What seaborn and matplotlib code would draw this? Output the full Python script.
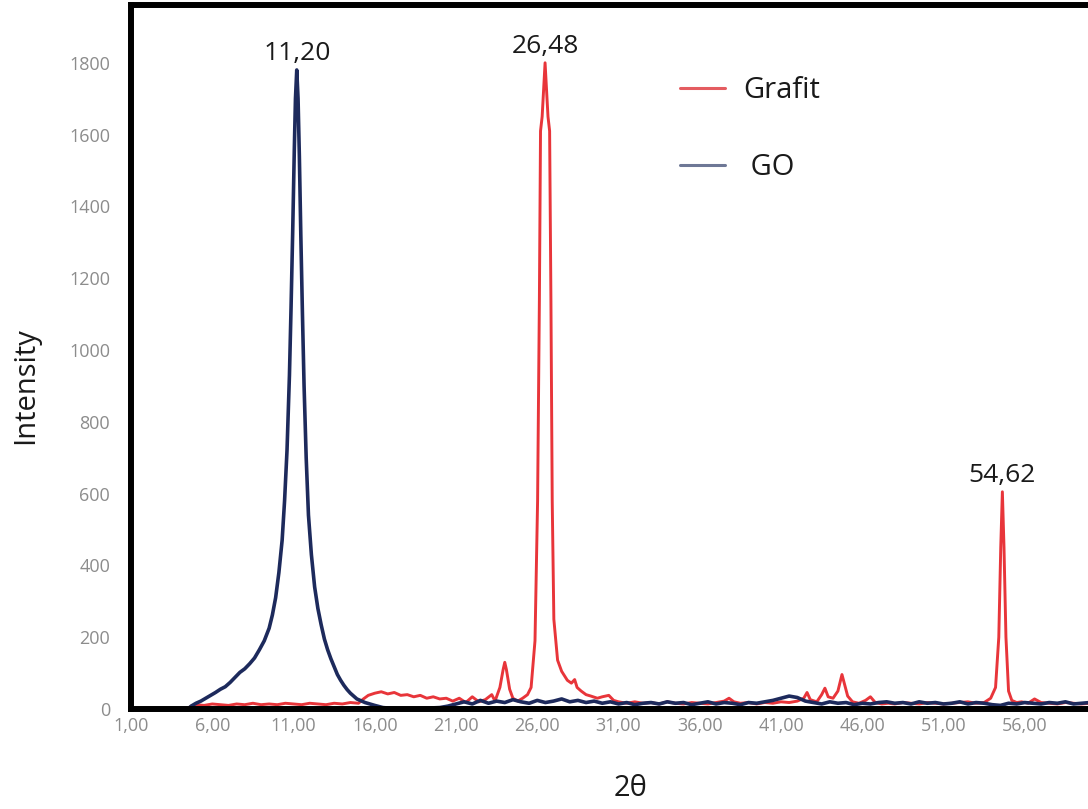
import matplotlib
matplotlib.use("Agg")
import matplotlib.pyplot as plt
from matplotlib.lines import Line2D
import pandas as pd
import seaborn as sns

# XRD scan of graphite (Grafit) and graphene oxide (GO)
go_2theta = [1.0, 4.5, 4.7, 5.0, 5.3, 5.6, 5.9, 6.2, 6.5, 6.8, 7.1, 7.4, 7.7, 8.0,
             8.3, 8.6, 8.9, 9.2, 9.5, 9.7, 9.9, 10.1, 10.3, 10.45, 10.6, 10.75,
             10.85, 10.95, 11.05, 11.12, 11.2, 11.28, 11.36, 11.45, 11.55, 11.65,
             11.78, 11.92, 12.1, 12.3, 12.5, 12.7, 12.9, 13.1, 13.3, 13.5, 13.7,
             13.9, 14.1, 14.3, 14.5, 14.7, 14.9, 15.1, 15.4, 15.7, 16.0, 16.5,
             17.0, 18.0, 19.0, 20.0, 20.5, 21.0, 21.5, 22.0, 22.5, 23.0, 23.5,
             24.0, 24.5, 25.0, 25.5, 26.0, 26.5, 27.0, 27.5, 28.0, 28.5, 29.0,
             29.5, 30.0, 30.5, 31.0, 31.5, 32.0, 32.5, 33.0, 33.5, 34.0, 34.5,
             35.0, 35.5, 36.0, 36.5, 37.0, 37.5, 38.0, 38.5, 39.0, 39.5, 40.0,
             40.5, 41.0, 41.5, 42.0, 42.5, 43.0, 43.5, 44.0, 44.5, 45.0, 45.5,
             46.0, 46.5, 47.0, 47.5, 48.0, 48.5, 49.0, 49.5, 50.0, 50.5, 51.0,
             51.5, 52.0, 52.5, 53.0, 53.5, 54.0, 54.5, 55.0, 55.5, 56.0, 56.5,
             57.0, 57.5, 58.0, 58.5, 59.0, 59.5, 60.0]
go_intensity = [0, 0, 8, 16, 22, 30, 38, 46, 55, 62, 74, 88, 102, 112,
                126, 142, 165, 190, 225, 262, 310, 380, 470, 580, 720, 930,
                1120, 1330, 1560, 1700, 1780, 1700, 1540, 1320, 1100, 900,
                700, 540, 430, 340, 280, 235, 195, 165, 140, 118, 96,
                80, 66, 54, 44, 36, 28, 24, 18, 14, 10, 4,
                2, 0, 2, 4, 8, 14, 20, 14, 24, 16, 22,
                18, 26, 20, 16, 24, 18, 22, 28, 20, 24, 18,
                22, 16, 20, 14, 18, 12, 16, 18, 14, 20, 16,
                18, 12, 16, 20, 14, 18, 16, 12, 18, 16, 20,
                24, 30, 36, 32, 22, 18, 14, 20, 16, 18, 12,
                16, 14, 18, 20, 16, 18, 14, 20, 16, 18, 14,
                16, 20, 14, 18, 16, 12, 10, 16, 14, 18, 16,
                14, 18, 16, 20, 14, 16, 18]

grafit_2theta = [1.0, 4.5, 4.7, 5.0, 5.5, 6.0, 6.5, 7.0, 7.5, 8.0, 8.5, 9.0, 9.5,
                 10.0, 10.5, 11.0, 11.5, 12.0, 12.5, 13.0, 13.5, 14.0, 14.5, 15.0,
                 15.3, 15.6, 16.0, 16.4, 16.8, 17.2, 17.6, 18.0, 18.4, 18.8, 19.2,
                 19.6, 20.0, 20.4, 20.8, 21.2, 21.6, 22.0, 22.4, 22.8, 23.2, 23.4,
                 23.7, 23.9, 24.0, 24.1, 24.3, 24.5, 24.8, 25.1, 25.4, 25.62, 25.86,
                 26.02, 26.13, 26.2, 26.3, 26.48, 26.66, 26.76, 26.84, 26.92, 27.02,
                 27.25, 27.5, 27.85, 28.1, 28.3, 28.45, 28.7, 29.0, 29.3, 29.7, 30.0,
                 30.4, 30.7, 31.0, 31.5, 32.0, 32.5, 33.0, 33.5, 34.0, 34.5, 35.0,
                 35.5, 36.0, 36.5, 37.0, 37.5, 37.8, 38.1, 38.5, 39.0, 39.5, 40.0,
                 40.5, 41.0, 41.5, 42.0, 42.4, 42.6, 42.8, 43.2, 43.5, 43.7, 43.9,
                 44.2, 44.5, 44.75, 44.9, 45.1, 45.4, 45.8, 46.2, 46.5, 46.8, 47.2,
                 47.6, 48.0, 48.5, 49.0, 49.5, 50.0, 50.5, 51.0, 51.5, 52.0, 52.5,
                 53.0, 53.5, 53.9, 54.2, 54.4, 54.52, 54.62, 54.72, 54.84, 55.0,
                 55.2, 55.5, 55.8, 56.2, 56.6, 57.0, 57.5, 58.0, 58.5, 59.0, 59.5,
                 60.0]
grafit_intensity = [0, 0, 8, 12, 10, 14, 12, 10, 14, 12, 16, 12, 14,
                    12, 16, 14, 12, 16, 14, 12, 16, 14, 18, 16,
                    28, 38, 44, 48, 42, 46, 38, 40, 34, 38, 30,
                    34, 28, 30, 22, 30, 18, 34, 20, 26, 40, 22,
                    60, 110, 130, 110, 55, 30, 22, 30, 40, 60, 190,
                    580, 1140, 1610, 1650, 1800, 1650, 1610, 1140, 580, 250,
                    136, 105, 80, 72, 82, 60, 50, 40, 36, 30, 34,
                    38, 24, 20, 16, 20, 16, 18, 14, 20, 16, 14,
                    18, 16, 14, 18, 22, 30, 20, 16, 18, 14, 18,
                    16, 20, 18, 22, 30, 46, 26, 20, 40, 58, 34,
                    30, 50, 96, 70, 36, 20, 16, 24, 34, 18, 14,
                    16, 14, 18, 16, 14, 18, 16, 14, 16, 18, 20,
                    16, 18, 30, 60, 200, 450, 605, 450, 200, 50,
                    24, 18, 20, 16, 28, 18, 16, 14, 18, 16, 14,
                    16]

series_names = ["Grafit", "GO"]
line_colors = {"Grafit": "#e8353a", "GO": "#1d2a5c"}
legend_colors = {"Grafit": "#e45c60", "GO": "#6e7896"}

peak_labels = ["11,20", "26,48", "54,62"]
peak_x = [11.20, 26.48, 54.62]
peak_y = [1780, 1800, 605]

x_ticks = [1, 6, 11, 16, 21, 26, 31, 36, 41, 46, 51, 56]
x_tick_labels = ["1,00", "6,00", "11,00", "16,00", "21,00", "26,00",
                 "31,00", "36,00", "41,00", "46,00", "51,00", "56,00"]
y_ticks = [0, 200, 400, 600, 800, 1000, 1200, 1400, 1600, 1800]

df = pd.concat([
    pd.DataFrame({"2theta": grafit_2theta, "intensity": grafit_intensity, "sample": "Grafit"}),
    pd.DataFrame({"2theta": go_2theta, "intensity": go_intensity, "sample": "GO"}),
], ignore_index=True)

sns.set_theme(style="white")
plt.rcParams["font.family"] = ["Open Sans", "DejaVu Sans"]

fig = plt.figure(figsize=(10.88, 8.09), dpi=100)
ax = fig.add_axes([131 / 1088, 100 / 809, 964 / 1088, 704 / 809])

sns.lineplot(data=df[df["sample"] == "Grafit"], x="2theta", y="intensity",
             color=line_colors["Grafit"], lw=2.1, estimator=None, sort=False,
             ax=ax, legend=False)
sns.lineplot(data=df[df["sample"] == "GO"], x="2theta", y="intensity",
             color=line_colors["GO"], lw=2.6, estimator=None, sort=False,
             ax=ax, legend=False)

ax.set_xlim(1, 60.32)
ax.set_ylim(0, 1961)
ax.set_xticks(x_ticks)
ax.set_xticklabels(x_tick_labels)
ax.set_yticks(y_ticks)
ax.set_yticklabels([str(v) for v in y_ticks])
ax.tick_params(axis="both", length=0, labelsize=13, labelcolor="#8c8c8c")
ax.tick_params(axis="y", pad=15)
ax.tick_params(axis="x", pad=6)

for side in ["left", "right", "top", "bottom"]:
    ax.spines[side].set_color("black")
    ax.spines[side].set_linewidth(4.3)

ax.set_xlabel("2θ", fontsize=21, color="#1a1a1a")
ax.set_ylabel("Intensity", fontsize=21, color="#1a1a1a")
ax.xaxis.set_label_coords(0.518, -0.092)
ax.yaxis.set_label_coords(-0.094, 0.46)

for label, px, py in zip(peak_labels, peak_x, peak_y):
    ax.annotate(label, xy=(px, py), xytext=(0, 3), textcoords="offset points",
                ha="center", va="bottom", fontsize=19, color="#1a1a1a")

handles = [Line2D([], [], color=legend_colors[n], lw=2.2) for n in series_names]
ax.legend(handles, ["Grafit", " GO"], loc="upper left",
          bbox_to_anchor=(0.5695, 0.899), frameon=False, fontsize=21,
          handlelength=1.55, handletextpad=0.62, labelspacing=1.65,
          borderpad=0, borderaxespad=0, labelcolor="#1a1a1a")

fig.savefig("out.png", dpi=100)
